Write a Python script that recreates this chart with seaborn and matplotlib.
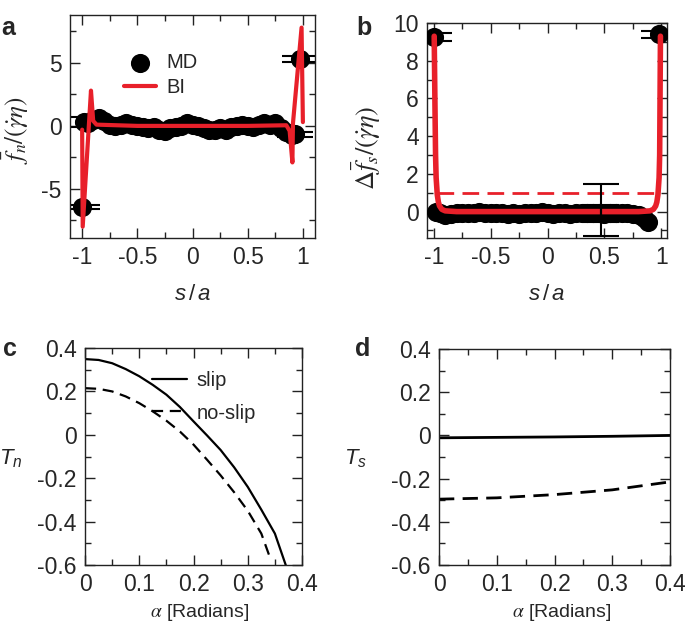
import numpy as np
import pandas as pd
import matplotlib
matplotlib.use("Agg")
import matplotlib.pyplot as plt
from matplotlib.ticker import MultipleLocator
import seaborn as sns

# ---- panel a : normal force, MD points vs BI line
a_md_s = [-0.95, -0.9, -0.85, -0.8, -0.75, -0.7, -0.65, -0.6, -0.55, -0.5, -0.45, -0.4,
          -0.35, -0.3, -0.25, -0.2, -0.15, -0.1, -0.05, 0.0, 0.05, 0.1, 0.15, 0.2, 0.25,
          0.3, 0.35, 0.4, 0.45, 0.5, 0.55, 0.6, 0.65, 0.7, 0.75, 0.8, 0.85, 0.9]
a_md_f = [0.2, 0.5, 0.6, 0.4, 0.1, 0.0, 0.1, 0.2, 0.1, 0.0, -0.1, -0.2,
          -0.1, -0.3, -0.4, -0.2, -0.1, 0.0, 0.2, 0.1, 0.0, -0.2, -0.3, -0.3, -0.2,
          -0.3, -0.1, 0.0, 0.1, 0.0, -0.1, 0.1, 0.2, 0.1, 0.2, -0.2, -0.5, -0.7]
a_err_s = [-1.0, -0.98, 0.93, 0.97]
a_err_f = [-6.4, 0.3, -0.65, 5.3]
a_err_e = [0.16, 0.4, 0.2, 0.24]
a_bi_s = [-1.0, -0.995, -0.92, -0.9, -0.87, -0.5, 0.0, 0.5, 0.85, 0.88, 0.905, 0.91, 0.988, 1.0]
a_bi_f = [-0.3, -8.0, 2.8, 0.4, 0.1, 0.0, 0.0, 0.0, 0.05, -0.4, -2.9, 0.2, 7.8, 0.3]

# ---- panel b : tangential force jump
b_md_s = [-0.98, -0.95, -0.9, -0.85, -0.8, -0.75, -0.7, -0.65, -0.6, -0.55, -0.5, -0.45,
          -0.4, -0.35, -0.3, -0.25, -0.2, -0.15, -0.1, -0.05, 0.0, 0.05, 0.1, 0.15, 0.2,
          0.25, 0.3, 0.35, 0.4, 0.45, 0.5, 0.55, 0.6, 0.65, 0.7, 0.75, 0.8, 0.85, 0.88]
b_md_f = [0.0, -0.1, -0.2, -0.15, -0.1, -0.05, -0.1, -0.05, 0.0, -0.05, -0.1, -0.05,
          -0.1, -0.15, -0.1, -0.15, -0.1, -0.05, -0.1, 0.0, -0.1, -0.15, -0.05, -0.1, -0.15,
          -0.1, -0.05, -0.1, -0.05, -0.1, -0.15, -0.1, -0.05, -0.1, -0.05, -0.15, -0.2, -0.35, -0.55]
b_end_s = [-1.0, 0.98]
b_end_f = [9.25, 9.4]
b_end_e = [0.2, 0.2]
b_bar_s = [0.47, 0.47]
b_bar_f = [0.09, -0.1]
b_bar_e = [1.38, 0.43]
b_bi_s = [-0.997, -0.99, -0.985, -0.98, -0.97, -0.96, -0.95, -0.93, -0.9, -0.8, 0.0,
          0.8, 0.9, 0.93, 0.95, 0.96, 0.97, 0.98, 0.985, 0.992]
b_bi_f = [9.3, 5.5, 3.0, 1.8, 0.9, 0.5, 0.3, 0.12, 0.04, 0.0, 0.0,
          0.0, 0.04, 0.12, 0.3, 0.5, 0.9, 1.8, 3.0, 9.3]
b_ref_s = [-0.97, 0.96]
b_ref_f = [1.0, 1.0]

# ---- panels c, d : torques vs alpha
alpha_slip = [0.0, 0.025, 0.05, 0.075, 0.1, 0.125, 0.15, 0.175, 0.2, 0.225, 0.25,
              0.275, 0.3, 0.325, 0.35, 0.37]
tn_slip = [0.349, 0.345, 0.33, 0.303, 0.27, 0.23, 0.185, 0.128, 0.062, -0.003, -0.07,
           -0.15, -0.24, -0.345, -0.455, -0.6]
alpha_noslip = [0.0, 0.025, 0.05, 0.075, 0.1, 0.125, 0.15, 0.175, 0.2, 0.225, 0.25,
                0.275, 0.3, 0.325, 0.343]
tn_noslip = [0.215, 0.212, 0.2, 0.177, 0.146, 0.108, 0.065, 0.015, -0.045, -0.115, -0.187,
             -0.265, -0.35, -0.455, -0.58]
alpha_d = [0.0, 0.1, 0.2, 0.3, 0.4]
ts_slip = [-0.011, -0.009, -0.007, -0.004, 0.0]
ts_noslip = [-0.295, -0.289, -0.274, -0.252, -0.215]

RED = "#e8202a"

sns.set_style("ticks")
plt.rcParams["font.family"] = ["Liberation Sans", "DejaVu Sans"]
plt.rcParams["mathtext.fontset"] = "custom"
plt.rcParams["mathtext.rm"] = "Liberation Sans"
plt.rcParams["mathtext.it"] = "Liberation Sans:italic"
plt.rcParams["font.size"] = 15
plt.rcParams["axes.linewidth"] = 1.0
plt.rcParams["axes.edgecolor"] = "#222222"

fig = plt.figure(figsize=(6.85, 6.29), dpi=100)
ax_a = fig.add_axes([0.1022, 0.6216, 0.3577, 0.3545])
ax_b = fig.add_axes([0.6234, 0.6216, 0.3504, 0.3418])
ax_c = fig.add_axes([0.1241, 0.1017, 0.3168, 0.3450])
ax_d = fig.add_axes([0.6409, 0.1017, 0.3372, 0.3434])


def style(ax, xmaj, xmin, ymaj, ymin):
    ax.xaxis.set_major_locator(MultipleLocator(xmaj))
    ax.xaxis.set_minor_locator(MultipleLocator(xmin))
    ax.yaxis.set_major_locator(MultipleLocator(ymaj))
    ax.yaxis.set_minor_locator(MultipleLocator(ymin))
    ax.tick_params(which="both", direction="in", top=True, right=True,
                   width=1.0, color="#222222", labelsize=16.5)
    ax.tick_params(which="major", length=7, pad=6)
    ax.tick_params(which="minor", length=4)
    for sp in ax.spines.values():
        sp.set_visible(True)


def fmt(v, pos):
    s = "%g" % v
    return "0" if s in ("0", "-0") else s


# ---- a
sns.lineplot(x=a_bi_s, y=a_bi_f, ax=ax_a, color=RED, lw=3, sort=False,
             estimator=None, zorder=4, label="BI")
ax_a.errorbar(a_err_s, a_err_f, yerr=a_err_e, fmt="none", ecolor="black",
              elinewidth=1.5, capsize=13, capthick=1.5, zorder=2)
sns.scatterplot(x=a_md_s + a_err_s, y=a_md_f + a_err_f, ax=ax_a, color="black",
                s=190, linewidth=0, zorder=3, label="MD")
ax_a.set_xlim(-1.11, 1.11)
ax_a.set_ylim(-8.9, 8.8)
style(ax_a, 0.5, 0.25, 5, 2.5)
h, l = ax_a.get_legend_handles_labels()
ax_a.legend(h[::-1], l[::-1], loc="upper left", bbox_to_anchor=(0.22, 0.83),
            frameon=False, handlelength=1.6, handletextpad=0.5, labelspacing=0.3,
            borderpad=0, borderaxespad=0, fontsize=14.5, markerscale=1.0)
ax_a.set_xlabel(r"$s\,/\,a$", fontsize=16)
ax_a.xaxis.set_label_coords(0.5, -0.205)
fig.text(16 / 685, 1 - 130 / 629, r"$\bar{f}_n/(\dot{\gamma}\eta)$", fontsize=18,
         math_fontfamily="stix", rotation=90, ha="center", va="center")

# ---- b
sns.lineplot(x=b_bi_s, y=b_bi_f, ax=ax_b, color=RED, lw=4, sort=False,
             estimator=None, zorder=4)
sns.lineplot(x=b_ref_s, y=b_ref_f, ax=ax_b, color=RED, lw=2, dashes=False,
             estimator=None, zorder=4).lines[-1].set_dashes((6, 3))
ax_b.errorbar(b_end_s, b_end_f, yerr=b_end_e, fmt="none", ecolor="black",
              elinewidth=1.5, capsize=13, capthick=1.5, zorder=2)
ax_b.errorbar(b_bar_s, b_bar_f, yerr=b_bar_e, fmt="none", ecolor="black",
              elinewidth=1.5, capsize=13, capthick=1.5, zorder=5)
sns.scatterplot(x=b_md_s + b_end_s, y=b_md_f + b_end_f, ax=ax_b, color="black",
                s=190, linewidth=0, zorder=3)
ax_b.set_xlim(-1.06, 1.05)
ax_b.set_ylim(-1.4, 10)
style(ax_b, 0.5, 0.25, 2, 1)
ax_b.set_xlabel(r"$s\,/\,a$", fontsize=16)
ax_b.xaxis.set_label_coords(0.5, -0.215)
fig.text(367 / 685, 1 - 148 / 629, r"$\Delta\bar{f}_s/(\dot{\gamma}\eta)$", fontsize=19,
         math_fontfamily="stix", rotation=90, ha="center", va="center")

# ---- c
df_c = pd.concat([
    pd.DataFrame({"alpha": alpha_slip, "T": tn_slip, "bc": "slip"}),
    pd.DataFrame({"alpha": alpha_noslip, "T": tn_noslip, "bc": "no-slip"}),
])
sns.lineplot(data=df_c, x="alpha", y="T", style="bc", ax=ax_c, color="black",
             lw=1.6, dashes={"slip": "", "no-slip": (5, 3)}, estimator=None)
ax_c.set_xlim(0, 0.4)
ax_c.set_ylim(-0.6, 0.4)
style(ax_c, 0.1, 0.05, 0.2, 0.1)
ax_c.legend(loc="upper left", bbox_to_anchor=(0.31, 0.895), frameon=False,
            handlelength=1.7, handletextpad=0.5, labelspacing=0.68,
            borderpad=0, borderaxespad=0, fontsize=14.5)
ax_c.set_xlabel(r"$\alpha$ [Radians]", fontsize=14, math_fontfamily="stix")
ax_c.set_ylabel(r"$T_n$", fontsize=16, rotation=0)
ax_c.xaxis.set_label_coords(0.53, -0.17)
ax_c.yaxis.set_label_coords(-0.34, 0.44)

# ---- d
df_d = pd.concat([
    pd.DataFrame({"alpha": alpha_d, "T": ts_slip, "bc": "slip"}),
    pd.DataFrame({"alpha": alpha_d, "T": ts_noslip, "bc": "no-slip"}),
])
sns.lineplot(data=df_d, x="alpha", y="T", style="bc", ax=ax_d, color="black",
             lw=2, dashes={"slip": "", "no-slip": (5.5, 3)}, estimator=None,
             legend=False)
ax_d.set_xlim(0, 0.4)
ax_d.set_ylim(-0.6, 0.4)
style(ax_d, 0.1, 0.05, 0.2, 0.1)
ax_d.set_xlabel(r"$\alpha$ [Radians]", fontsize=14, math_fontfamily="stix")
ax_d.set_ylabel(r"$T_s$", fontsize=16, rotation=0)
ax_d.xaxis.set_label_coords(0.53, -0.17)
ax_d.yaxis.set_label_coords(-0.36, 0.44)

for ax in (ax_a, ax_b, ax_c, ax_d):
    ax.xaxis.set_major_formatter(plt.FuncFormatter(fmt))
    ax.yaxis.set_major_formatter(plt.FuncFormatter(fmt))

for lbl, x, y in [("a", 0.002, 0.975), ("b", 0.52, 0.975), ("c", 0.004, 0.465), ("d", 0.518, 0.465)]:
    fig.text(x, y, lbl, fontsize=18, fontweight="bold", va="top", ha="left")

fig.savefig("out.png", dpi=100)
